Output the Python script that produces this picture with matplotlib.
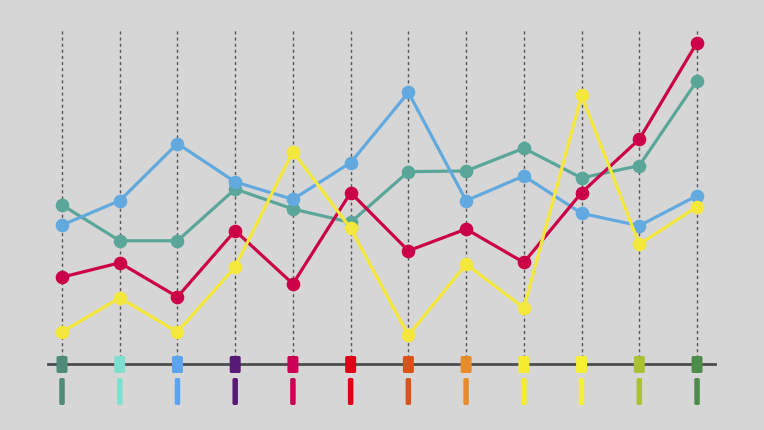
import matplotlib
matplotlib.use("Agg")
import matplotlib.pyplot as plt
from matplotlib.patches import FancyBboxPatch

# values (0 = axis line, 100 = top of the grid lines)
idx = list(range(12))
teal = [47.6, 36.9, 36.9, 52.4, 46.4, 42.4, 57.6, 57.8, 64.6, 55.7, 59.4, 84.8]
blue = [41.6, 48.9, 66.0, 54.5, 49.3, 60.3, 81.3, 48.9, 56.3, 45.1, 41.4, 50.4]
red = [26.0, 30.3, 20.1, 39.9, 24.0, 51.3, 33.9, 40.4, 30.4, 51.3, 67.3, 96.2]
yellow = [9.6, 19.8, 9.6, 29.1, 63.6, 40.6, 8.6, 29.9, 16.8, 80.4, 35.8, 47.1]

tick_colors = ["#4f8b78", "#80e0d0", "#5ca4f0", "#561a76", "#cc0055", "#dc0018",
               "#da5218", "#e68c2c", "#f6ec30", "#f6f032", "#aac232", "#4e8c4a"]

series = [(teal, "#5aa79a"), (blue, "#62a9df"), (red, "#cb0047"), (yellow, "#f4e83c")]

bg = "#d6d6d6"
px_x = 57.73   # pixels per category
px_y = 3.34    # pixels per unit

fig = plt.figure(figsize=(7.64, 4.30), dpi=100, facecolor=bg)
ax = fig.add_axes([0, 0, 1, 1])
ax.set_facecolor(bg)
ax.set_xlim(-62 / px_x, (764 - 62) / px_x)
ax.set_ylim(-(430 - 364) / px_y, 364 / px_y)
ax.axis("off")

# dashed guide lines
for i in idx:
    ax.plot([i, i], [0, 100], color="#555555", lw=1.0, ls=(0, (2.2, 2.2)), zorder=1)

# axis line
ax.plot([-14 / px_x, 11 + 18 / px_x], [0, 0], color="#4d4d4d", lw=2.0, zorder=2)

for vals, c in series:
    ax.plot(idx, vals, color=c, lw=2.3, marker="o", ms=8.8, mec=c, zorder=3)

# coloured tick boxes and bars under the axis
w_sq = 11 / px_x
h_sq = 17 / px_y
w_bar = 5.5 / px_x
for i, c in zip(idx, tick_colors):
    sq = FancyBboxPatch((i - w_sq / 2, -h_sq / 2 - 0.15), w_sq, h_sq,
                        boxstyle="round,pad=0,rounding_size=0.03",
                        mutation_aspect=px_x / px_y,
                        fc=c, ec="none", zorder=4)
    ax.add_patch(sq)
    bar = FancyBboxPatch((i - w_bar / 2, -405 / px_y + 364 / px_y), w_bar, 27 / px_y,
                         boxstyle="round,pad=0,rounding_size=0.03",
                         mutation_aspect=px_x / px_y,
                         fc=c, ec="none", zorder=4)
    ax.add_patch(bar)

fig.savefig("out.png", dpi=100, facecolor=bg)
